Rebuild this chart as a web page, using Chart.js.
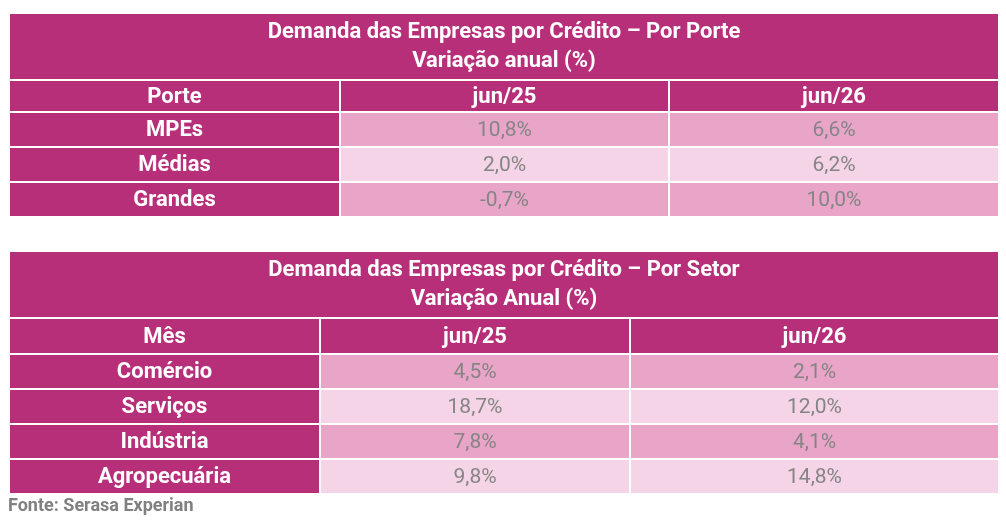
<!DOCTYPE html>
<html lang="pt">
<head>
<meta charset="UTF-8">
<title>Demanda das Empresas por Crédito</title>
<script src="https://cdn.jsdelivr.net/npm/chart.js"></script>
<style>
  html, body { margin: 0; padding: 0; background: #fff; }
  #wrap { width: 1006px; height: 529px; }
</style>
</head>
<body>
<div id="wrap"><canvas id="myChart"></canvas></div>
<script>
// data
const porteTitle = ['Demanda das Empresas por Crédito – Por Porte', 'Variação anual (%)'];
const porteHeader = ['Porte', 'jun/25', 'jun/26'];
const porteCategories = ['MPEs', 'Médias', 'Grandes'];
const porteJun25 = [10.8, 2.0, -0.7];
const porteJun26 = [6.6, 6.2, 10.0];

const setorTitle = ['Demanda das Empresas por Crédito – Por Setor', 'Variação Anual (%)'];
const setorHeader = ['Mês', 'jun/25', 'jun/26'];
const setorCategories = ['Comércio', 'Serviços', 'Indústria', 'Agropecuária'];
const setorJun25 = [4.5, 18.7, 7.8, 9.8];
const setorJun26 = [2.1, 12.0, 4.1, 14.8];

const source = 'Fonte: Serasa Experian';

const DARK = '#b72e79', MID = '#e8a5c8', LIGHT = '#f4d4e6';
const fmt = v => v.toFixed(1).replace('.', ',') + '%';

// table layouts (in scale units = page pixels)
const tables = [
  { title: porteTitle, header: porteHeader, cats: porteCategories, a: porteJun25, b: porteJun26,
    cols: [10, 339, 668, 998], titleY: [14, 79], headY: [81, 111], rowTop: 113, rowH: 35 },
  { title: setorTitle, header: setorHeader, cats: setorCategories, a: setorJun25, b: setorJun26,
    cols: [10, 319, 629, 998], titleY: [252, 317], headY: [319, 353], rowTop: 355, rowH: 35 }
];

const tablePlugin = {
  id: 'tablePlugin',
  afterDraw(chart) {
    const c = chart.ctx, xs = chart.scales.x, ys = chart.scales.y;
    const X = v => xs.getPixelForValue(v), Y = v => ys.getPixelForValue(v);
    const rect = (x0, y0, x1, y1, col) => {
      c.fillStyle = col;
      c.fillRect(X(x0), Y(y0), X(x1) - X(x0), Y(y1) - Y(y0));
    };
    const text = (s, x, y, font, col) => {
      c.font = font; c.fillStyle = col;
      c.textAlign = 'center'; c.textBaseline = 'middle';
      c.fillText(s, X(x), Y(y));
    };
    const bold = 'bold 22px Roboto', reg = '21px Roboto';
    c.save();
    tables.forEach(t => {
      const L = t.cols[0], R = t.cols[3];
      rect(L, t.titleY[0], R, t.titleY[1], DARK);
      const mid = (L + R) / 2, tm = (t.titleY[0] + t.titleY[1]) / 2;
      text(t.title[0], mid, tm - 14, bold, '#fff');
      text(t.title[1], mid, tm + 15, bold, '#fff');
      for (let i = 0; i < 3; i++) {
        const x0 = t.cols[i] + (i ? 2 : 0), x1 = t.cols[i + 1];
        rect(x0, t.headY[0], x1, t.headY[1], DARK);
        text(t.header[i], (x0 + x1) / 2, (t.headY[0] + t.headY[1]) / 2 + 1, bold, '#fff');
      }
      t.cats.forEach((cat, r) => {
        const y0 = t.rowTop + r * t.rowH, y1 = y0 + t.rowH - 2, ym = (y0 + y1) / 2 + 1;
        const fill = r % 2 === 0 ? MID : LIGHT;
        rect(t.cols[0], y0, t.cols[1], y1, DARK);
        text(cat, (t.cols[0] + t.cols[1]) / 2, ym, bold, '#fff');
        [t.a[r], t.b[r]].forEach((v, k) => {
          const x0 = t.cols[k + 1] + 2, x1 = t.cols[k + 2];
          rect(x0, y0, x1, y1, fill);
          text(fmt(v), (x0 + x1) / 2, ym, reg, '#858585');
        });
      });
    });
    c.font = 'bold 18px Roboto'; c.fillStyle = '#808080';
    c.textAlign = 'left'; c.textBaseline = 'middle';
    c.fillText(source, X(8), Y(506));
    c.restore();
  }
};

const ctx = document.getElementById('myChart').getContext('2d');
new Chart(ctx, {
  type: 'scatter',
  data: { datasets: [{ data: [] }] },
  options: {
    responsive: true,
    maintainAspectRatio: false,
    animation: false,
    layout: { padding: 0 },
    plugins: { legend: { display: false }, tooltip: { enabled: false } },
    scales: {
      x: { type: 'linear', min: 0, max: 1006, display: false },
      y: { type: 'linear', min: 0, max: 529, reverse: true, display: false }
    }
  },
  plugins: [tablePlugin]
});
</script>
</body>
</html>
